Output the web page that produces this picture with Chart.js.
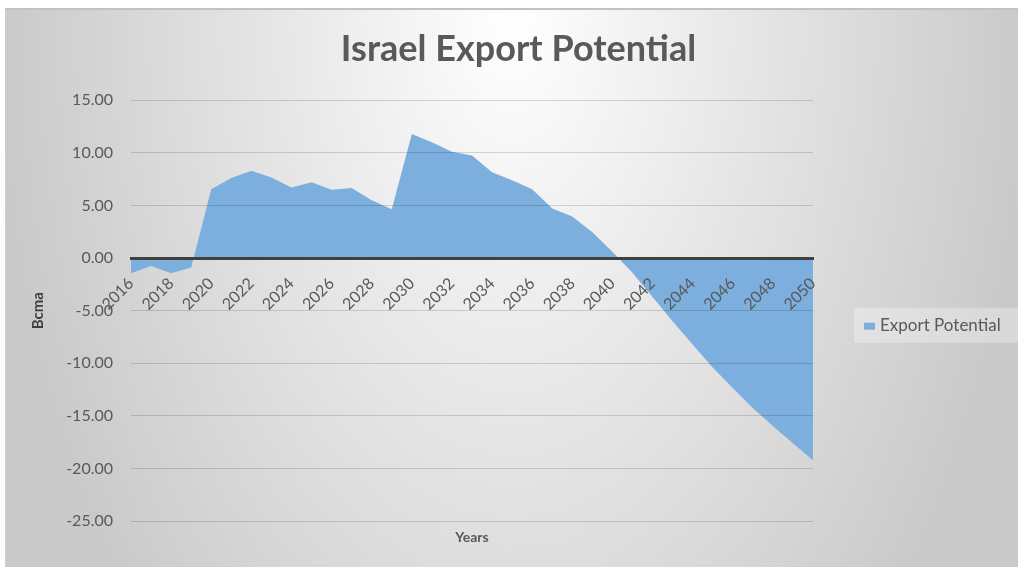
<!DOCTYPE html>
<html><head><meta charset="utf-8">
<script src="https://cdn.jsdelivr.net/npm/chart.js@4.4.1/dist/chart.umd.min.js"></script>
<style>
html,body{margin:0;padding:0;background:#fff;}
#wrap{position:relative;width:1018px;height:567px;overflow:hidden;}
#bg{position:absolute;left:5px;top:8px;width:1013px;height:559px;box-sizing:border-box;
 background:radial-gradient(ellipse 520px 900px at 50% 0%, #ffffff 0%, #c9c9c9 100%);
 border-top:2px solid #c2c2c2;border-left:1px solid #cdcdcd;}
canvas{position:absolute;left:0;top:0;}
</style></head>
<body><div id="wrap"><div id="bg"></div><canvas id="c" width="1018" height="567"></canvas></div>
<script>
const years = ['2016','2017','2018','2019','2020','2021','2022','2023','2024','2025','2026','2027','2028','2029','2030','2031','2032','2033','2034','2035','2036','2037','2038','2039','2040','2041','2042','2043','2044','2045','2046','2047','2048','2049','2050'];
const exportPotential = [-1.45,-0.75,-1.45,-0.9,6.55,7.6,8.3,7.65,6.7,7.2,6.5,6.65,5.5,4.65,11.8,11.0,10.1,9.75,8.15,7.4,6.55,4.7,3.95,2.45,0.6,-1.4,-3.7,-6.0,-8.2,-10.4,-12.35,-14.25,-15.95,-17.6,-19.2];
const yTickValues = [-25,-20,-15,-10,-5,0,5,10,15];
const seriesName = 'Export Potential';
const chartTitle = 'Israel Export Potential';
const xTitle = 'Years';
const yTitle = 'Bcma';

const AREA = '#7cafdd';
const TXT = '#595959';

const sideLegend = {
  id: 'sideLegend',
  afterDraw(chart) {
    const {ctx, chartArea} = chart;
    const ds = chart.data.datasets[0];
    const bx = chartArea.right + 41, by = (chartArea.top + chartArea.bottom) / 2 - 3;
    ctx.save();
    ctx.fillStyle = 'rgba(255,255,255,0.3)';
    ctx.fillRect(bx, by, chart.width - bx, 35);
    ctx.fillStyle = ds.backgroundColor;
    ctx.fillRect(bx + 10, by + 15, 11, 7);
    ctx.fillStyle = TXT;
    ctx.font = '17px Lato';
    ctx.textBaseline = 'middle';
    ctx.textAlign = 'left';
    ctx.fillText(ds.label, bx + 26, by + 18);
    ctx.restore();
  }
};

new Chart(document.getElementById('c'), {
  type: 'line',
  data: {
    labels: years,
    datasets: [{
      label: seriesName,
      data: exportPotential,
      fill: 'origin',
      backgroundColor: AREA,
      borderColor: AREA,
      borderWidth: 0,
      pointRadius: 0,
      tension: 0
    }]
  },
  options: {
    responsive: false,
    animation: false,
    layout: {padding: {left: 19, right: 0, top: 0, bottom: 17}},
    plugins: {
      legend: {display: false},
      tooltip: {enabled: false},
      title: {display: true, text: chartTitle, color: TXT,
        font: {family: 'Lato', size: 36, weight: 'bold'}, padding: {top: 28, bottom: 29}}
    },
    scales: {
      x: {
        type: 'category',
        position: {y: 0},
        grid: {display: false, drawTicks: false},
        border: {display: true, color: '#404040', width: 3, z: 1},
        ticks: {z: 1, autoSkip: false, minRotation: 45, maxRotation: 45, padding: 16, color: TXT,
          font: {family: 'Lato', size: 16},
          callback: (v, i) => (i % 2 === 0 ? years[i] : '')}
      },
      x2: {
        type: 'category', labels: years, position: 'bottom',
        grid: {display: false, drawTicks: false}, border: {display: false}, ticks: {display: false},
        title: {display: true, text: xTitle, color: TXT,
          font: {family: 'Lato', size: 14, weight: 'bold'}, padding: {top: 8, bottom: 4}}
      },
      y: {
        min: -25, max: 15,
        afterBuildTicks: s => { s.ticks = yTickValues.map(v => ({value: v})); },
        ticks: {padding: 18, color: TXT, font: {family: 'Lato', size: 16},
          callback: v => Number(v).toFixed(2)},
        grid: {z: 1, drawTicks: false, lineWidth: 1,
          color: c => (c.tick && c.tick.value === 0 ? 'rgba(0,0,0,0)' : 'rgba(0,0,0,0.15)')},
        border: {display: false},
        title: {display: true, text: yTitle, color: '#404040',
          font: {family: 'Lato', size: 15, weight: 'bold'}, padding: {top: 10, bottom: 0}},
        afterFit: s => { s.width = 112; }
      },
      yR: {
        type: 'linear', position: 'right', min: 0, max: 1,
        grid: {display: false, drawTicks: false}, border: {display: false}, ticks: {display: false},
        afterFit: s => { s.width = 205; }
      }
    }
  },
  plugins: [sideLegend]
});
</script>
</body></html>
